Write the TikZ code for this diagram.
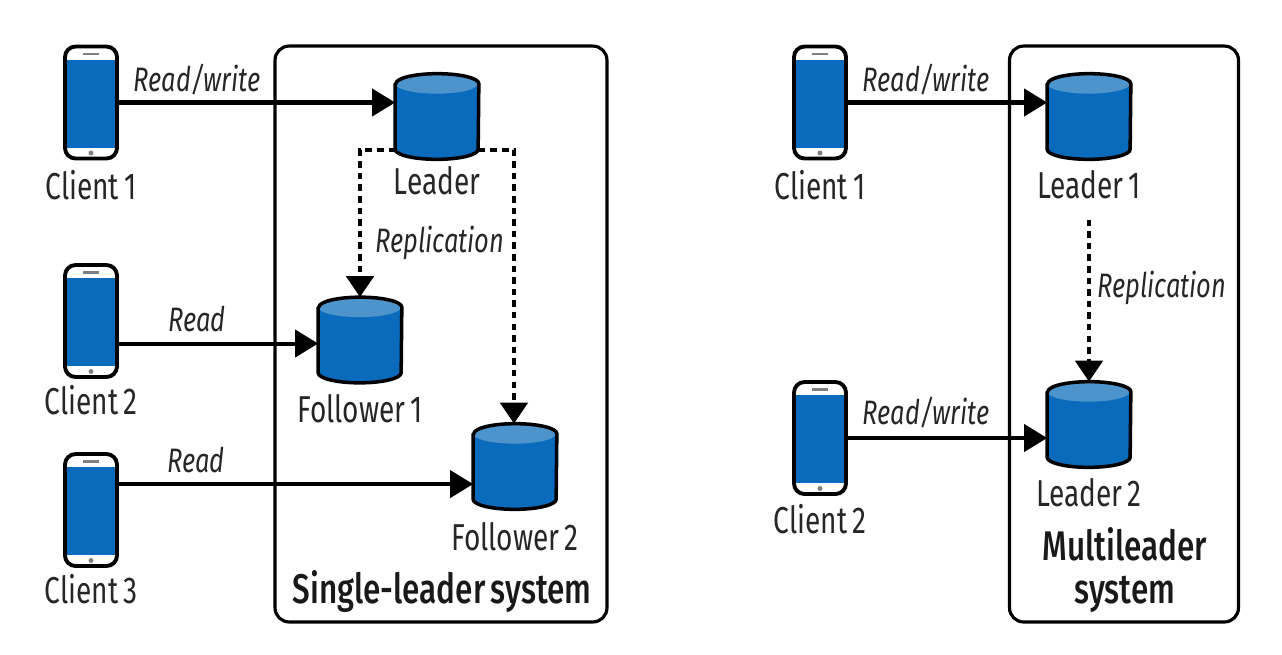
\documentclass[tikz,border=0pt]{standalone}
\usepackage{fontspec}
\setmainfont[FakeStretch=0.75,WordSpace=0.7]{Fira Sans}
\newfontfamily\titlefont[FakeStretch=0.76,WordSpace=0.7]{Fira Sans Medium}
\usetikzlibrary{arrows.meta,positioning}
\definecolor{dbblue}{HTML}{0A6BBC}
\definecolor{dbtop}{HTML}{4E94CC}

\begin{document}
\begin{tikzpicture}[x=0.02cm,y=-0.02cm,
    phone/.style={rectangle,draw,line width=2.2pt,rounded corners=6pt,fill=white,minimum width=1.04cm,minimum height=2.24cm,inner sep=0pt,
        path picture={\fill[dbblue,sharp corners] ([yshift=-0.26cm]path picture bounding box.north west) rectangle ([yshift=0.22cm]path picture bounding box.south east);
            \fill[gray,sharp corners] ([yshift=-0.12cm,xshift=-0.16cm]path picture bounding box.north) rectangle ([yshift=-0.17cm,xshift=0.16cm]path picture bounding box.north);
            \fill[gray,sharp corners] ([yshift=0.11cm]path picture bounding box.south) circle (2.5);}},
    db/.style={rectangle,minimum width=1.66cm,minimum height=1.7cm,inner sep=0pt},
    dbline/.style={draw,line width=2pt,line join=round},
    box/.style={rectangle,draw,line width=1.8pt,rounded corners=8pt,inner sep=0pt},
    arrow/.style={-{Triangle[length=0.46cm,width=0.54cm]},line width=2.3pt},
    repl/.style={-{Triangle[length=0.42cm,width=0.54cm]},line width=2.7pt,dash pattern=on 3.7pt off 2.9pt},
    caption/.style={font=\fontsize{21.3}{24}\selectfont,text=black!85,inner sep=0pt},
    systitle/.style={font=\fontsize{23.6}{24}\titlefont,align=center,text=black!90,inner sep=0pt},
    lbl/.style={font=\fontsize{19.3}{22}\selectfont\itshape,text=black!85,inner sep=0pt}
]
\useasboundingbox (0,0) rectangle (1282,654);

% === Single-leader system ===
\node[box,minimum width=6.64cm,minimum height=11.52cm] (single) at (441,334) {};
\node[systitle] (singletitle) at (442,591) {Single-leader system};

% clients
\node[phone] (client1) at (91,102.5) {};
\node[phone] (client2) at (91,321) {};
\node[phone] (client3) at (91,510) {};
\node[caption] (client1name) at (91,185) {Client 1};
\node[caption] (client2name) at (91,400) {Client 2};
\node[caption] (client3name) at (91,589) {Client 3};

% databases
\node[db] (leader) at (437,116.5) {};
\node[db] (follower1) at (360,340) {};
\node[db] (follower2) at (515,466.5) {};
\node[caption] (leadername) at (437,181) {Leader};
\node[caption] (follower1name) at (360,409) {Follower 1};
\node[caption] (follower2name) at (515,537) {Follower 2};

% === Multileader system ===
\node[box,minimum width=4.58cm,minimum height=11.52cm] (multi) at (1124,334) {};
\node[systitle] (multititle) at (1125,570) {Multileader\\system};

\node[phone] (client4) at (820,102.5) {};
\node[phone] (client5) at (820,438) {};
\node[caption] (client4name) at (820,185) {Client 1};
\node[caption] (client5name) at (820,519) {Client 2};

\node[db] (leader1) at (1089,116.5) {};
\node[db] (leader2) at (1089,424.5) {};
\node[caption] (leader1name) at (1089,185) {Leader 1};
\node[caption] (leader2name) at (1089,493) {Leader 2};

% cylinder bodies on the db nodes
\foreach \db in {leader,follower1,follower2,leader1,leader2} {
    \fill[dbblue] ([yshift=-0.2cm]\db.north west) -- ([yshift=0.2cm]\db.south west)
        arc[start angle=180,end angle=360,x radius=0.83cm,y radius=0.2cm]
        -- ([yshift=-0.2cm]\db.north east)
        arc[start angle=0,end angle=180,x radius=0.83cm,y radius=0.2cm] -- cycle;
    \fill[dbtop] ([yshift=-0.2cm]\db.north west)
        arc[start angle=180,end angle=540,x radius=0.83cm,y radius=0.2cm] -- cycle;
    \path[dbline] ([yshift=-0.2cm]\db.north west) -- ([yshift=0.2cm]\db.south west)
        arc[start angle=180,end angle=360,x radius=0.83cm,y radius=0.2cm]
        -- ([yshift=-0.2cm]\db.north east)
        arc[start angle=0,end angle=180,x radius=0.83cm,y radius=0.2cm] -- cycle;
}

% connectors
\draw[arrow] (client1.east) -- (client1.east -| leader.west);
\node[lbl] (rw1) at (197,80) {Read/write};
\draw[arrow] ([yshift=-2pt]client2.east |- follower1.west) -- ([yshift=-2pt]follower1.west);
\node[lbl] (r2) at (197,319) {Read};
\draw[arrow] ([yshift=-10pt]client3.east |- follower2.west) -- ([yshift=-10pt]follower2.west);
\node[lbl] (r3) at (196,460) {Read};
\coordinate (leftturn) at (360,150);
\coordinate (rightturn) at (514,150);
\draw[repl] (leader.south west |- leftturn) -- (leftturn) -- (follower1.north -| leftturn);
\draw[repl] (leader.south east |- rightturn) -- (rightturn) -- (follower2.north -| rightturn);
\node[lbl] (repl1) at (440,243) {Replication};

\draw[arrow] (client4.east) -- (client4.east -| leader1.west);
\node[lbl] (rw4) at (926,80) {Read/write};
\draw[arrow] (client5.east) -- (client5.east -| leader2.west);
\node[lbl] (rw5) at (926,413) {Read/write};
\draw[repl] ([yshift=-0.4cm]leader1name.south) -- (leader2.north);
\node[lbl] (repl2) at (1162,288) {Replication};
\end{tikzpicture}
\end{document}
